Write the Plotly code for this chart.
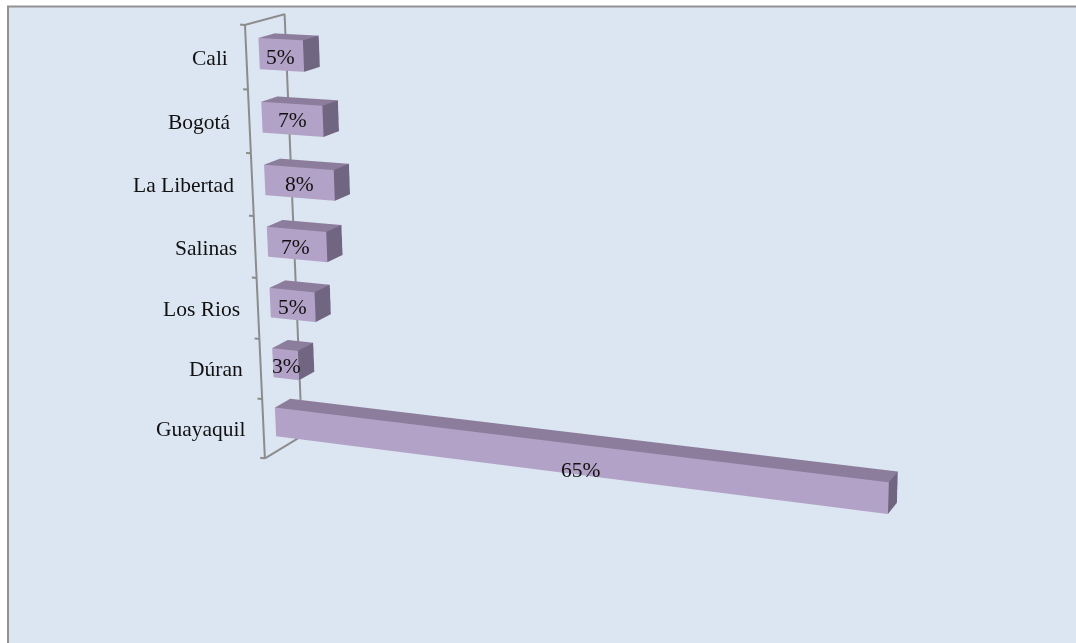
import plotly.graph_objects as go

categories = ["Guayaquil", "Dúran", "Los Rios", "Salinas", "La Libertad", "Bogotá", "Cali"]
values = [65, 3, 5.2, 6.8, 7.9, 6.9, 5]
labels = ["65%", "3%", "5%", "7%", "8%", "7%", "5%"]

W, H = 1076, 643
KK = 3
XR = (-5, 70); YR = (0, 1); ZR = (0, 7)
g, y0, y1 = 0.2557, 0.3138, 0.7264
front, top, side = "#B3A2C7", "#8B7D9B", "#716681"
label_xshift = [16, 1, 0, -1, 0, 0, -1]
label_yshift = [-12, -2, -2, -3, -1, -1, -2]

X = []; Y = []; Z = []; I = []; J = []; K = []; FC = []
faces = [((0, 1, 5), front), ((0, 5, 4), front), ((4, 5, 6), top), ((4, 6, 7), top),
         ((1, 2, 6), side), ((1, 6, 5), side), ((0, 3, 2), front), ((0, 2, 1), front),
         ((3, 7, 6), front), ((3, 6, 2), front), ((0, 4, 7), front), ((0, 7, 3), front)]
for n, v in enumerate(values):
    a, b = n + g, n + 1 - g
    o = len(X)
    for xx, yy, zz in [(0, y0, a), (v, y0, a), (v, y1, a), (0, y1, a), (0, y0, b), (v, y0, b), (v, y1, b), (0, y1, b)]:
        X.append(xx); Y.append(yy); Z.append(zz)
    for t, col in faces:
        I.append(o + t[0]); J.append(o + t[1]); K.append(o + t[2]); FC.append(col)

fig = go.Figure()
fig.add_trace(go.Mesh3d(x=X, y=Y, z=Z, i=I, j=J, k=K, facecolor=FC, flatshading=True, hoverinfo="skip",
                        lighting=dict(ambient=1, diffuse=0, specular=0, roughness=1, fresnel=0)))
lx = []; ly = []; lz = []
for s in [[(0, 0, 0), (0, 0, 7), (0, 1, 7), (0, 1, 0), (0, 0, 0)]] + [[(0, 0, t), (-0.55, 0, t)] for t in range(8)]:
    for p in s:
        lx.append(p[0]); ly.append(p[1]); lz.append(p[2])
    lx.append(None); ly.append(None); lz.append(None)
fig.add_trace(go.Scatter3d(x=lx, y=ly, z=lz, mode="lines", line=dict(color="#8C8C8C", width=4), hoverinfo="skip"))

font = dict(family="Liberation Serif", size=21.5, color="#111")
ann = []
for n, (cat, v, lab) in enumerate(zip(categories, values, labels)):
    ann.append(dict(x=-2, y=0, z=n + .5, text=cat, showarrow=False, xanchor="right", font=font,
                    xshift=1.5, yshift=-2))
    ann.append(dict(x=v / 2, y=y0, z=n + .5, text=lab, showarrow=False, xanchor="center", font=font,
                    xshift=label_xshift[n], yshift=label_yshift[n]))

ax = dict(visible=False)
FW, FH = KK * W, KK * H
ox, oy = (FW - W) / 2, (FH - H) / 2
fig.update_layout(
    width=FW, height=FH, margin=dict(l=0, r=0, t=0, b=0), showlegend=False, paper_bgcolor="white",
    shapes=[dict(type="rect", xref="paper", yref="paper", x0=(8 + ox) / FW, x1=(W + 20 + ox) / FW,
                 y0=1 - (H + 20 + oy) / FH, y1=1 - (6.5 + oy) / FH,
                 line=dict(color="#929292", width=2), fillcolor="#DCE6F2", layer="below")],
    scene=dict(domain=dict(x=[0, 1], y=[0, 1]), dragmode="orbit",
               xaxis=dict(ax, range=XR), yaxis=dict(ax, range=YR), zaxis=dict(ax, range=ZR),
               aspectmode="manual", aspectratio=dict(x=1.6754, y=0.1775, z=1),
               camera=dict(eye=dict(x=1.8658, y=-4.5121, z=1.2155),
                           center=dict(x=-0.0401, y=-0.0820, z=-0.1089),
                           up=dict(x=-0.0102, y=0.0558, z=1)),
               annotations=ann, bgcolor="rgba(0,0,0,0)"))
js = f"""document.documentElement.style.overflow='hidden';document.body.style.margin='0';document.body.style.overflow='hidden';
var gd=document.getElementsByClassName('plotly-graph-div')[0];gd.style.position='fixed';gd.style.left='{-ox}px';gd.style.top='{-oy}px';"""
fig.write_html("out.html", post_script=js, config=dict(displayModeBar=False))
